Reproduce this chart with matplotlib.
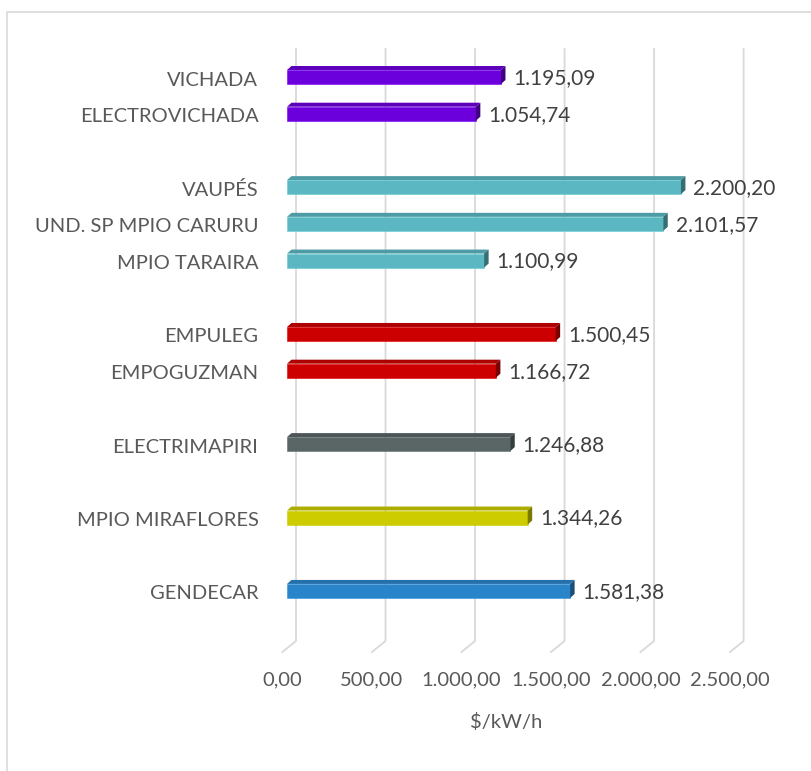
import matplotlib.pyplot as plt
import matplotlib.transforms as mtransforms
from matplotlib.patches import Polygon, Rectangle

# data, top to bottom, one list per group
groups = [
    ["VICHADA", "ELECTROVICHADA"],
    ["VAUPÉS", "UND. SP MPIO CARURU", "MPIO TARAIRA"],
    ["EMPULEG", "EMPOGUZMAN"],
    ["ELECTRIMAPIRI"],
    ["MPIO MIRAFLORES"],
    ["GENDECAR"],
]
group_values = [
    [1195.09, 1054.74],
    [2200.20, 2101.57, 1100.99],
    [1500.45, 1166.72],
    [1246.88],
    [1344.26],
    [1581.38],
]
group_colors = ["#6c00dc", "#5bb8c2", "#cc0000", "#5a6566", "#cccc00", "#2a84c9"]
xticks = [0, 500, 1000, 1500, 2000, 2500]
xlabel = "$/kW/h"


def es_fmt(v):
    s = f"{v:,.2f}"
    return s.replace(",", "X").replace(".", ",").replace("X", ".")


def shade(c, f):
    r, g, b = plt.matplotlib.colors.to_rgb(c)
    return (r * f, g * f, b * f)


plt.rcParams['font.family'] = ['Lato', 'DejaVu Sans']
DPI = 100
FS = 14.5
fig = plt.figure(figsize=(8.11, 7.71), dpi=DPI)

# pixel geometry of the plot floor (front plane)
slot_px = 36.71
top_px, bot_px = 49, 652
first_px = 77
ax = fig.add_axes([282.4 / 811, (771 - bot_px) / 771, 447.6 / 811, (bot_px - top_px) / 771])
ax.set_xlim(0, 2500)
ylo = (top_px - first_px) / slot_px
yhi = (bot_px - first_px) / slot_px
ax.set_ylim(yhi, ylo)
ax.set_facecolor("none")
for s in ax.spines.values():
    s.set_visible(False)

px_x = 2500 / 447.6  # data units per pixel (x)

# frame
fig.add_artist(Rectangle((7 / 811, -0.1), 1.2, (771 - 12) / 771 + 0.1,
                         transform=fig.transFigure, fill=False,
                         edgecolor="#d9d9d9", lw=1.2))

# 3D gridlines (back wall + floor foot)
gdx, gdy = 13.6 * px_x, 11 / slot_px
for v in xticks:
    ax.plot([v, v + gdx, v + gdx], [yhi, yhi - gdy, ylo],
            color="#d9d9d9", lw=1.3, clip_on=False, zorder=1)

# bars
names, values, colors, ypos = [], [], [], []
slot = 0
for g, vals, c in zip(groups, group_values, group_colors):
    for n, v in zip(g, vals):
        names.append(n)
        values.append(v)
        colors.append(c)
        ypos.append(slot)
        slot += 1
    slot += 1

bar_off = mtransforms.ScaledTranslation(4.6 / DPI, 0, fig.dpi_scale_trans)
btr = ax.transData + bar_off
h = 14 / slot_px
ddx, ddy = 4.5 * px_x, 4 / slot_px
for n, v, c, y in zip(names, values, colors, ypos):
    ax.barh(y, v, height=h, color=c, edgecolor=shade(c, 1.1) if c != "#cccc00" else c,
            lw=0.4, transform=btr, zorder=3, clip_on=False)
    yt = y - h / 2
    top = [(0, yt), (v, yt), (v + ddx, yt - ddy), (ddx, yt - ddy)]
    ax.add_patch(Polygon(top, closed=True, facecolor=shade(c, 0.85), edgecolor="none",
                         transform=btr, zorder=3, clip_on=False))
    right = [(v, yt), (v + ddx, yt - ddy), (v + ddx, y + h / 2 - ddy), (v, y + h / 2)]
    ax.add_patch(Polygon(right, closed=True, facecolor=shade(c, 0.6), edgecolor="none",
                         transform=btr, zorder=3, clip_on=False))
    # value label
    ax.text(v, y, es_fmt(v), ha="left", va="center", fontsize=15, color="#404040",
            transform=ax.transData + mtransforms.ScaledTranslation(17 / DPI, -1 / DPI, fig.dpi_scale_trans),
            clip_on=False)
    # category label
    ax.text(0, y, n, ha="right", va="center", fontsize=FS, color="#595959",
            transform=ax.transData + mtransforms.ScaledTranslation(-24 / DPI, -3 / DPI, fig.dpi_scale_trans),
            clip_on=False)

ax.set_yticks([])
ax.set_xticks(xticks, [es_fmt(t) for t in xticks])
ax.tick_params(axis="x", length=0, pad=14, labelsize=FS, labelcolor="#595959")
ax.set_xlabel(xlabel, fontsize=FS, color="#595959", labelpad=18)

fig.savefig("out.png", dpi=DPI)
